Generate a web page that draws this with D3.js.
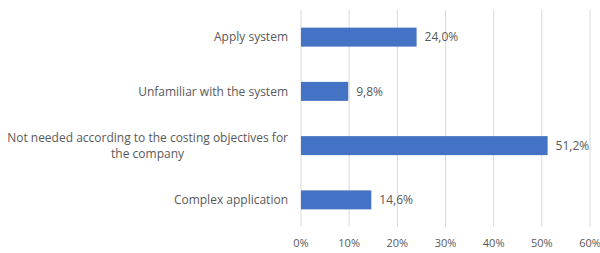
<!DOCTYPE html>
<html>
<head>
<meta charset="utf-8">
<script src="https://cdn.jsdelivr.net/npm/d3@7"></script>
<style>
	body { margin: 0; background: #fff; }
	text { font-family: 'Open Sans', sans-serif; fill: #595959; }
</style>
</head>
<body>
<svg id="chart" width="600" height="253"></svg>
<script>
// categories, top to bottom
const categories = [
	'Apply system',
	'Unfamiliar with the system',
	'Not needed according to the costing objectives for the company',
	'Complex application',
];
const values = [24.0, 9.8, 51.2, 14.6];
const tickValues = [0, 10, 20, 30, 40, 50, 60];

const width = 600;
const height = 253;
const margin = { top: 10, right: 10, bottom: 26, left: 301 };

const svg = d3.select('#chart');

const x = d3.scaleLinear()
	.domain([0, 60])
	.range([margin.left, width - margin.right]);

const y = d3.scaleBand()
	.domain(categories)
	.range([margin.top, height - margin.bottom])
	.paddingInner(0.65)
	.paddingOuter(0.325);

// gridlines
svg.append('g')
	.selectAll('line')
	.data(tickValues)
	.enter()
	.append('line')
	.attr('x1', d => x(d))
	.attr('x2', d => x(d))
	.attr('y1', margin.top)
	.attr('y2', height - margin.bottom)
	.attr('stroke', '#d9d9d9')
	.attr('stroke-width', 1);

// bars
svg.append('g')
	.selectAll('rect')
	.data(values)
	.enter()
	.append('rect')
	.attr('x', x(0))
	.attr('y', (_, i) => y(categories[i]))
	.attr('width', d => x(d) - x(0))
	.attr('height', y.bandwidth())
	.attr('fill', '#4472c4');

// value labels
const fmt = d => d3.format('.1f')(d).replace('.', ',') + '%';

svg.append('g')
	.selectAll('text')
	.data(values)
	.enter()
	.append('text')
	.attr('x', d => x(d) + 8)
	.attr('y', (_, i) => y(categories[i]) + y.bandwidth() / 2)
	.attr('dy', '0.35em')
	.style('font-size', '12px')
	.text(fmt);

// category labels, wrapped
const wrapAt = 290;
const labels = svg.append('g')
	.selectAll('text')
	.data(categories)
	.enter()
	.append('text')
	.attr('text-anchor', 'middle')
	.style('font-size', '12px')
	.each(function (d) {
		const el = d3.select(this);
		const words = d.split(' ');
		const lines = [];
		let cur = '';
		const probe = el.append('tspan');
		words.forEach(w => {
			const test = cur ? cur + ' ' + w : w;
			probe.text(test);
			if (probe.node().getComputedTextLength() > wrapAt && cur) {
				lines.push(cur);
				cur = w;
			} else {
				cur = test;
			}
		});
		lines.push(cur);
		probe.remove();

		// measure widest line to right-align block, center lines within it
		const widths = lines.map(l => {
			const t = el.append('tspan').text(l);
			const w = t.node().getComputedTextLength();
			t.remove();
			return w;
		});
		const maxW = d3.max(widths);
		const cx = 288 - maxW / 2;
		const cy = y(d) + y.bandwidth() / 2;
		const lh = 16;
		lines.forEach((l, i) => {
			el.append('tspan')
				.attr('x', cx)
				.attr('y', cy + (i - (lines.length - 1) / 2) * lh)
				.attr('dy', '0.35em')
				.text(l);
		});
	});

// x axis tick labels
svg.append('g')
	.selectAll('text')
	.data(tickValues)
	.enter()
	.append('text')
	.attr('x', d => x(d))
	.attr('y', 243)
	.attr('dy', '0.35em')
	.attr('text-anchor', 'middle')
	.style('font-size', '11px')
	.text(d => d + '%');
</script>
</body>
</html>
